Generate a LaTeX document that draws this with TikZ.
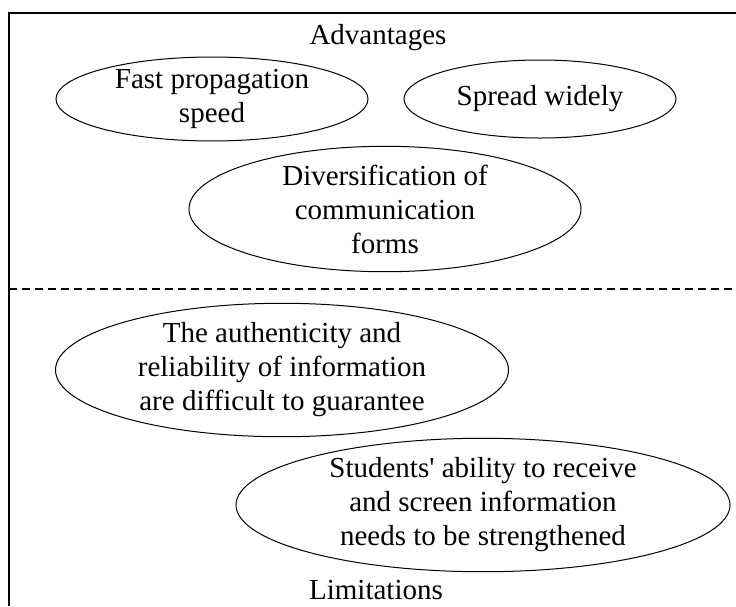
\documentclass[tikz,border=0pt]{standalone}
\usepackage{fontspec}
\setmainfont{Liberation Serif}
\usetikzlibrary{shapes.geometric}
\begin{document}
\begin{tikzpicture}[x=1pt, y=-1pt,
        bubble/.style={ellipse, draw, line width=1pt, inner sep=0pt, align=center,
            font=\fontsize{29}{34}\selectfont},
        heading/.style={inner sep=0pt, font=\fontsize{29}{34}\selectfont}]
            \useasboundingbox (0, 0) rectangle (736, 606);
            % frame and divider
            \coordinate (fb) at (9, 606);
            \coordinate (fc) at (9, 13);
            \coordinate (fr) at (736, 13);
            \coordinate (dl) at (9, 289);
            \coordinate (dr) at (732, 289);
            \draw[line width=1.5pt] (fb) -- (fc) -- (fr);
            \draw[line width=1.2pt, dash pattern=on 8pt off 5pt] (dl) -- (dr);
            % advantages
            \node[heading] (adv) at (378, 38) {Advantages};
            \node[bubble, minimum width=312pt, minimum height=78pt] (fast) at (212, 99) {Fast propagation\\speed};
            \node[bubble, minimum width=272pt, minimum height=78pt] (spread) at (540, 99) {Spread widely};
            \node[bubble, minimum width=392pt, minimum height=107pt] (divers) at (385, 209) {Diversification of\\communication\\forms};
            % limitations
            \node[bubble, minimum width=453pt, minimum height=125pt] (auth) at (282, 370) {The authenticity and\\reliability of information\\are difficult to guarantee};
            \node[bubble, minimum width=494pt, minimum height=106pt] (stud) at (483, 505) {Students\textquotesingle{} ability to receive\\and screen information\\needs to be strengthened};
            \node[heading] (lim) at (376, 590) {Limitations};
\end{tikzpicture}
\end{document}
